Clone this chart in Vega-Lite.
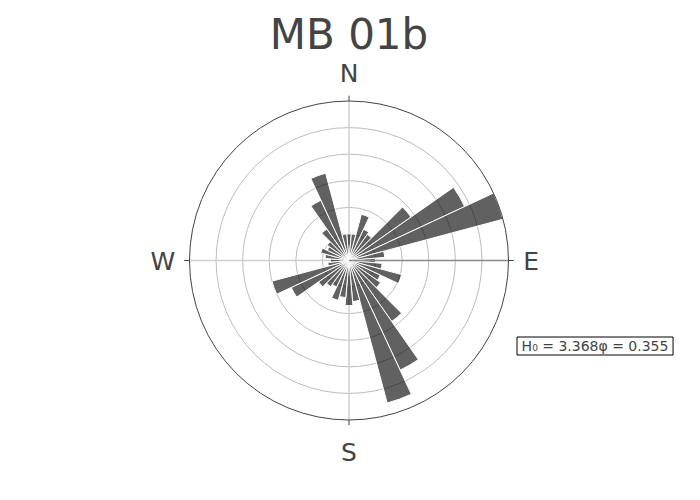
{
  "$schema": "https://vega.github.io/schema/vega-lite/v6.json",
  "width": 319,
  "height": 319,
  "autosize": {"type": "none"},
  "padding": {"left": 189.5, "top": 101, "right": 191.5, "bottom": 80},
  "background": "white",
  "config": {"view": {"stroke": null}},
  "datasets": {
    "bars": [
      {"from": -5, "to": 5, "r": 1.0}, {"from": 5, "to": 15, "r": 1.0}, {"from": 15, "to": 25, "r": 1.8}, {"from": 25, "to": 35, "r": 1.3},
      {"from": 35, "to": 45, "r": 1.2}, {"from": 45, "to": 55, "r": 2.85}, {"from": 55, "to": 65, "r": 4.8}, {"from": 65, "to": 75, "r": 6.0},
      {"from": 75, "to": 85, "r": 1.35}, {"from": 85, "to": 95, "r": 1.0}, {"from": 95, "to": 105, "r": 1.25}, {"from": 105, "to": 115, "r": 2.05},
      {"from": 115, "to": 125, "r": 1.3}, {"from": 125, "to": 135, "r": 1.45}, {"from": 135, "to": 145, "r": 2.8}, {"from": 145, "to": 155, "r": 4.55},
      {"from": 155, "to": 165, "r": 5.55}, {"from": 165, "to": 175, "r": 1.55}, {"from": 175, "to": 185, "r": 1.7}, {"from": 185, "to": 195, "r": 1.4},
      {"from": 195, "to": 205, "r": 1.55}, {"from": 205, "to": 215, "r": 1.1}, {"from": 215, "to": 225, "r": 1.2}, {"from": 225, "to": 235, "r": 1.4},
      {"from": 235, "to": 245, "r": 2.4}, {"from": 245, "to": 255, "r": 3.0}, {"from": 255, "to": 265, "r": 0.8}, {"from": 265, "to": 275, "r": 0.7},
      {"from": 275, "to": 285, "r": 0.9}, {"from": 285, "to": 295, "r": 1.1}, {"from": 295, "to": 305, "r": 0.9}, {"from": 305, "to": 315, "r": 1.0},
      {"from": 315, "to": 325, "r": 1.45}, {"from": 325, "to": 335, "r": 2.5}, {"from": 335, "to": 345, "r": 3.4}, {"from": 345, "to": 355, "r": 1.0}
    ],
    "rings": [{"r": 1}, {"r": 2}, {"r": 3}, {"r": 4}, {"r": 5}],
    "outer": [{"r": 6}],
    "compass": [
      {"label": "N", "x": 0, "y": 6.726},
      {"label": "E", "x": 6.85, "y": -0.365},
      {"label": "S", "x": 0, "y": -7.54},
      {"label": "W", "x": -7.0, "y": -0.365}
    ],
    "one": [{}]
  },
  "layer": [
    {
      "data": {"name": "rings"},
      "mark": {"type": "arc", "filled": false, "stroke": "#bdbdbd", "strokeWidth": 1, "theta": 0, "theta2": 6.2832},
      "encoding": {
        "radius": {"field": "r", "type": "quantitative", "stack": null, "scale": {"type": "linear", "domain": [0, 6], "range": [0, 159.5], "zero": true}}
      }
    },
    {
      "data": {"name": "one"},
      "mark": {"type": "rule", "color": "#cfcfcf", "strokeWidth": 1.5},
      "encoding": {
        "x": {"datum": 0, "type": "quantitative", "scale": {"domain": [-6, 6], "nice": false, "zero": false}, "axis": null},
        "y": {"datum": -6, "type": "quantitative", "scale": {"domain": [-6, 6], "nice": false, "zero": false}, "axis": null},
        "y2": {"datum": 6}
      }
    },
    {
      "data": {"name": "one"},
      "mark": {"type": "rule", "color": "#cfcfcf", "strokeWidth": 1.5},
      "encoding": {
        "x": {"datum": -6, "type": "quantitative"},
        "x2": {"datum": 0},
        "y": {"datum": 0, "type": "quantitative"}
      }
    },
    {
      "data": {"name": "bars"},
      "mark": {"type": "arc", "fill": "#000000", "fillOpacity": 0.62, "stroke": "white", "strokeWidth": 1},
      "encoding": {
        "theta": {"field": "from", "type": "quantitative", "stack": null, "scale": {"type": "linear", "domain": [0, 360], "range": [0, 6.2831853], "zero": false, "nice": false}},
        "theta2": {"field": "to"},
        "radius": {"field": "r", "type": "quantitative", "stack": null}
      }
    },
    {
      "data": {"name": "one"},
      "mark": {"type": "rule", "color": "#8a8a8a", "strokeWidth": 1.5},
      "encoding": {
        "x": {"datum": 0, "type": "quantitative"},
        "x2": {"datum": 6},
        "y": {"datum": 0, "type": "quantitative"}
      }
    },
    {
      "data": {"name": "outer"},
      "mark": {"type": "arc", "filled": false, "stroke": "#444444", "strokeWidth": 1, "theta": 0, "theta2": 6.2832},
      "encoding": {
        "radius": {"field": "r", "type": "quantitative", "stack": null}
      }
    },
    {
      "data": {"name": "one"},
      "mark": {"type": "rule", "color": "#444444", "strokeWidth": 1},
      "encoding": {"x": {"datum": 0, "type": "quantitative"}, "y": {"datum": 6, "type": "quantitative"}, "y2": {"datum": 6.2}}
    },
    {
      "data": {"name": "one"},
      "mark": {"type": "rule", "color": "#444444", "strokeWidth": 1},
      "encoding": {"x": {"datum": 0, "type": "quantitative"}, "y": {"datum": -6, "type": "quantitative"}, "y2": {"datum": -6.2}}
    },
    {
      "data": {"name": "one"},
      "mark": {"type": "rule", "color": "#444444", "strokeWidth": 1},
      "encoding": {"y": {"datum": 0, "type": "quantitative"}, "x": {"datum": 6, "type": "quantitative"}, "x2": {"datum": 6.2}}
    },
    {
      "data": {"name": "one"},
      "mark": {"type": "rule", "color": "#444444", "strokeWidth": 1},
      "encoding": {"y": {"datum": 0, "type": "quantitative"}, "x": {"datum": -6, "type": "quantitative"}, "x2": {"datum": -6.2}}
    },
    {
      "data": {"name": "compass"},
      "mark": {"type": "text", "font": "DejaVu Sans", "fontSize": 25, "color": "#444444", "align": "center", "baseline": "alphabetic"},
      "encoding": {
        "x": {"field": "x", "type": "quantitative"},
        "y": {"field": "y", "type": "quantitative"},
        "text": {"field": "label"}
      }
    },
    {
      "data": {"values": [{"t": "MB 01b", "x": 0, "y": 7.956}]},
      "mark": {"type": "text", "font": "DejaVu Sans", "fontSize": 42, "color": "#444444", "align": "center", "baseline": "alphabetic"},
      "encoding": {
        "x": {"field": "x", "type": "quantitative"},
        "y": {"field": "y", "type": "quantitative"},
        "text": {"field": "t"}
      }
    },
    {
      "data": {"values": [{"x": 6.32, "x2": 12.19, "y": -2.878, "y2": -3.555}]},
      "mark": {"type": "rect", "fill": "white", "stroke": "#000000", "strokeWidth": 1},
      "encoding": {
        "x": {"field": "x", "type": "quantitative"},
        "x2": {"field": "x2"},
        "y": {"field": "y", "type": "quantitative"},
        "y2": {"field": "y2"}
      }
    },
    {
      "data": {"values": [{"t": "H₀ = 3.368φ = 0.355", "x": 9.254, "y": -3.393}]},
      "mark": {"type": "text", "font": "DejaVu Sans", "fontSize": 14, "color": "#444444", "align": "center", "baseline": "alphabetic"},
      "encoding": {
        "x": {"field": "x", "type": "quantitative"},
        "y": {"field": "y", "type": "quantitative"},
        "text": {"field": "t"}
      }
    }
  ]
}
